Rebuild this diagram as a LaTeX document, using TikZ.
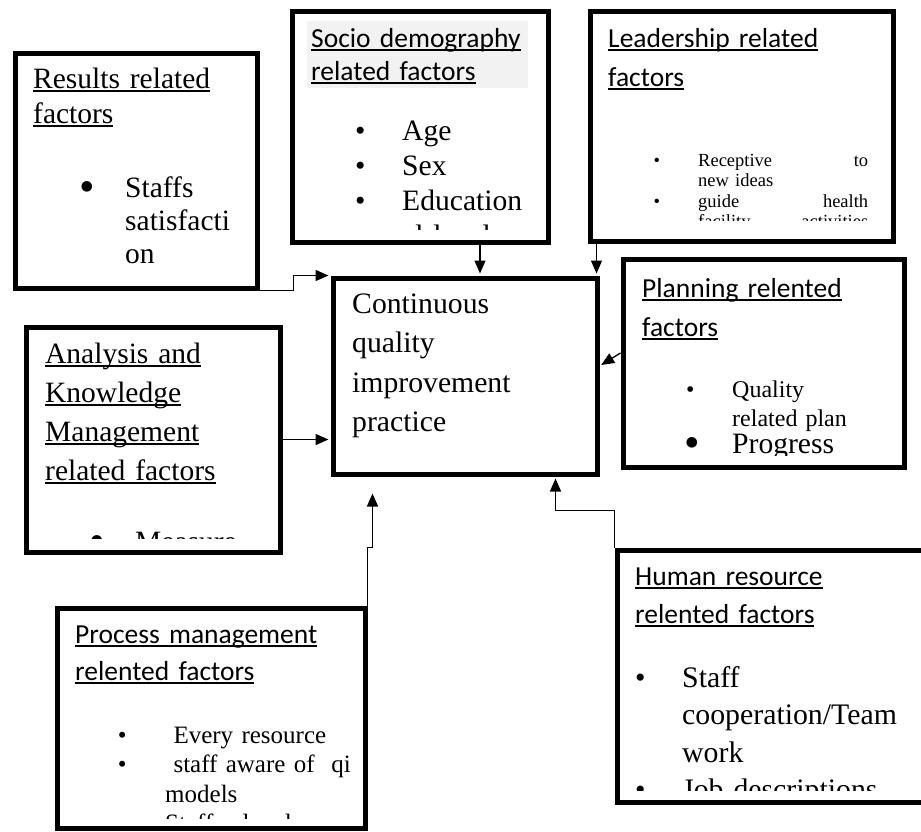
\documentclass[tikz,border=0pt]{standalone}
\usepackage{fontspec}
\setmainfont{Liberation Serif}
\newfontfamily\calfont{Carlito}
\usetikzlibrary{arrows.meta}
\newcommand{\undl}[1]{\leavevmode\setbox0\hbox{#1}\rlap{\rule[-4pt]{\wd0}{1.8pt}}\box0}
\newcommand{\bitem}[2]{\leavevmode\hangindent=#1\hangafter=1\makebox[#1][l]{\textbullet}#2}
\newcommand{\bigitem}[2]{\leavevmode\hangindent=#1\hangafter=1\makebox[#1][l]{\raisebox{-0.16em}{\scalebox{1.5}{\textbullet}}}#2}
\tikzset{
  factor/.style={draw, line width=5pt, anchor=north west, inner sep=0pt},
  txt/.style={anchor=base west, inner sep=0pt, text width=#1},
  cal/.style 2 args={font=\calfont\fontsize{#1}{#2}\selectfont},
  rom/.style 2 args={font=\fontsize{#1}{#2}\selectfont},
  conn/.style={line width=1.3pt, -{Triangle[length=13pt,width=11pt]}, shorten >=2pt}
}
\begin{document}
\begin{tikzpicture}[x=1pt, y=-1pt]
\useasboundingbox (0,0) rectangle (921,831);
\node[factor, minimum width=242pt, minimum height=235pt] (results) at (12.5,50.5) {};
\node[factor, minimum width=256pt, minimum height=231pt] (socio) at (289.5,8.5) {};
\node[factor, minimum width=303pt, minimum height=230pt] (leader) at (587.5,8.5) {};
\node[factor, minimum width=264pt, minimum height=196pt] (central) at (330.5,275.5) {};
\node[factor, minimum width=281pt, minimum height=208pt] (planning) at (620.5,256.5) {};
\node[factor, minimum width=254pt, minimum height=225pt] (analysis) at (23.5,324.5) {};
\node[factor, minimum width=308pt, minimum height=220pt] (process) at (54.5,605.5) {};
\node[factor, minimum width=330pt, minimum height=252pt] (human) at (614.5,547.5) {};

\node[txt=225pt, rom={29.5}{35}] (resultshead) at (33,88) {\undl{Results related}\\\undl{factors}};
\node[txt=165pt, rom={29.5}{33}] (resultslist) at (79.4,197) {\bigitem{45.6pt}{Staffs\newline satisfacti\newline on}\par};

\fill[gray!10] (307,21) rectangle (528,88);
\node[txt=235pt, cal={27.5}{33}] (sociohead) at (311,47) {\undl{Socio demography}\\\undl{related factors}};
\begin{scope}
\clip (292,11) rectangle (543,229);
\node[txt=185pt, rom={29.6}{35}] (sociolist) at (355,140) {\bitem{47pt}{Age}\par\bitem{47pt}{Sex}\par\bitem{47pt}{Education\newline al level}\par};
\end{scope}

\node[txt=270pt, cal={27.5}{39}] (leaderhead) at (608,47) {\undl{Leadership related}\\\undl{factors}};
\begin{scope}
\clip (590,11) rectangle (888,220);
\node[txt=214.5pt, rom={18.5}{20.5}] (leaderlist) at (653.5,166) {\bitem{44.5pt}{Receptive\hfill to\newline new ideas}\par\bitem{44.5pt}{guide\hfill health\newline facility\hfill activities}\par};
\end{scope}

\node[txt=230pt, rom={29.7}{39.5}] (centraltext) at (352,313) {Continuous\\quality\\improvement\\practice};

\node[txt=250pt, cal={27.5}{39}] (planninghead) at (642,297) {\undl{Planning relented}\\\undl{factors}};
\begin{scope}
\clip (623,259) rectangle (899,455);
\node[txt=200pt, rom={24}{29}] (planninglist) at (686,397) {\bitem{46pt}{Quality\newline related plan}\par};
\node[txt=200pt, rom={29.6}{35}] (planningmore) at (684,453) {\bigitem{48pt}{Progress}\par};
\end{scope}

\node[txt=225pt, rom={29.5}{39}] (analysishead) at (45,363) {\undl{Analysis and}\\\undl{Knowledge}\\\undl{Management}\\\undl{related factors}};
\begin{scope}
\clip (26,327) rectangle (275,538);
\node[txt=175pt, rom={29.5}{35}] (analysislist) at (89.4,551) {\bigitem{45.6pt}{Measure}\par};
\end{scope}

\node[txt=280pt, cal={27.5}{37}] (processhead) at (75,643) {\undl{Process management}\\\undl{relented factors}};
\begin{scope}
\clip (57,608) rectangle (360,818);
\node[txt=235pt, rom={25}{29.5}] (processlist) at (117.6,743) {\bitem{47.4pt}{\ Every resource}\par\bitem{47.4pt}{\ staff aware of\ \ qi\newline models}\par\bitem{47.4pt}{Staff roles defined}\par};
\end{scope}

\node[txt=280pt, cal={27.5}{38}] (humanhead) at (635,585) {\undl{Human resource}\\\undl{relented factors}};
\begin{scope}
\clip (617,550) rectangle (921,790);
\node[txt=280pt, rom={29.8}{37.5}] (humanlist) at (635,687) {\bitem{47pt}{Staff\newline cooperation/Team\newline work}\par\bitem{47pt}{Job descriptions}\par};
\end{scope}

\draw[conn] (results.south east) -| ([xshift=-37pt]central.north west) -- (central.north west);
\draw[conn] ([xshift=60pt]socio.south) -- ([xshift=60pt]socio.south |- central.north);
\draw[conn] ([xshift=9pt]leader.south west) -- ([xshift=9pt]leader.south west |- central.north);
\draw[conn] ([yshift=10pt]planning.west) -- ([yshift=10pt]central.east);
\draw[conn] (analysis.east) -- (analysis.east -| central.west);
\draw[conn] (process.north east) -- ++(0,-58) -| ([xshift=42pt,yshift=-15pt]central.south west);
\draw[conn] (human.north west) -- ++(0,-37) -| ([xshift=225pt]central.south west);
\end{tikzpicture}
\end{document}
